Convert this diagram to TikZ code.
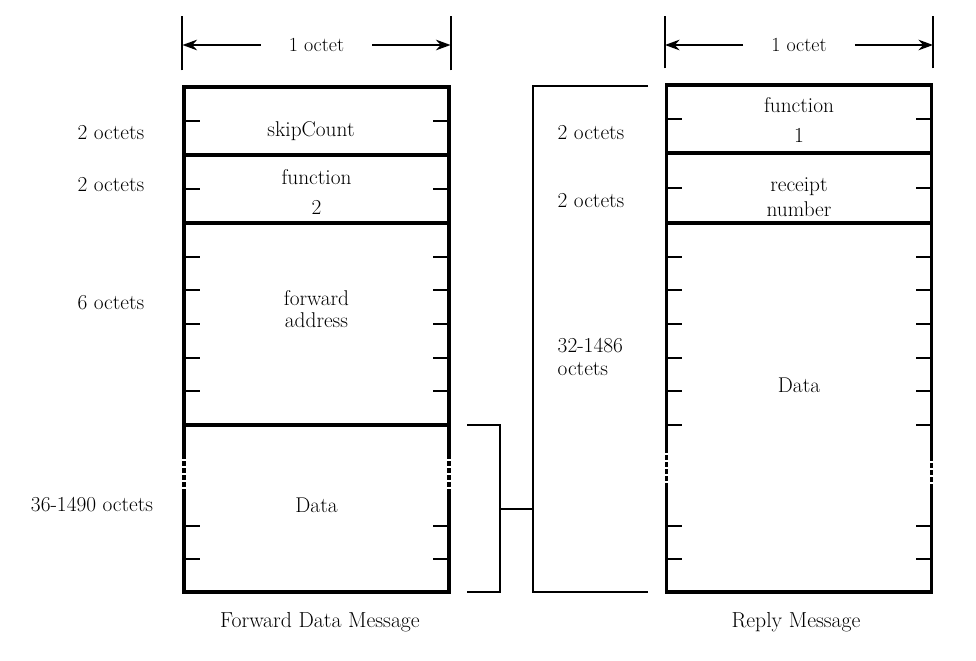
\documentclass[tikz,border=0pt]{standalone}
\usetikzlibrary{arrows.meta}

\begin{document}
\begin{tikzpicture}[x=0.75pt, y=-0.75pt,
    field/.style={draw, line width=2.3pt, minimum width=198.75pt, inner sep=0pt},
    ticmark/.style={line width=1.5pt},
    txt/.style={font=\fontsize{16}{19}\selectfont, align=center},
    capt/.style={font=\fontsize{16.3}{19}\selectfont},
    dimline/.style={line width=1.5pt},
    dimarr/.style={-{Stealth[length=11pt, width=8pt]}, line width=1.1pt},
    brack/.style={line width=1.2pt},
    brk/.style={white, line width=3.5pt, dash pattern=on 1.6pt off 3.6pt}
  ]
  \useasboundingbox (0,0) rectangle (976,661);

  % forward data message
  \node[field, minimum height=51pt]     (fskip) at (316.5,121)   {};
  \node[field, minimum height=51pt]     (ffunc) at (316.5,189)   {};
  \node[field, minimum height=151.5pt]  (faddr) at (316.5,324)   {};
  \node[field, minimum height=125.25pt] (fdata) at (316.5,508.5) {};

  \foreach \y in {121,189,257,290,324,358,391,526,559}{
    \draw[ticmark] (184,\y) -- +(16,0);
    \draw[ticmark] (449,\y) -- +(-16,0);
  }
  \draw[brk] (184,459) -- (184,490);
  \draw[brk] (449,459) -- (449,490);

  \node[txt] (tskip) at (311,131) {skipCount};
  \node[txt] (tfunc) at (316.5,192) {function\\[4pt]2};
  \node[txt] (taddr) at (316.5,309) {forward\\[-2.5pt]address};
  \node[txt] (tfdat) at (316.5,505) {Data};

  \node[txt] (lskip) at (111,133) {2 octets};
  \node[txt] (lfunc) at (111,185) {2 octets};
  \node[txt] (laddr) at (111,303) {6 octets};
  \node[txt] (lfdat) at (92,505)  {36-1490 octets};

  \node[txt, font=\fontsize{15}{18}\selectfont, inner xsep=21pt] (octf) at (316.5,45) {1 octet};
  \draw[dimline] (fskip.north west) ++(0,-15) -- ++(0,-54);
  \draw[dimline] (fskip.north east) ++(0,-15) -- ++(0,-54);
  \draw[dimarr] (octf.west) -- (fskip.north west |- octf.west);
  \draw[dimarr] (octf.east) -- (fskip.north east |- octf.east);

  \node[capt] (capf) at (320,622) {Forward Data Message};

  % reply message
  \node[field, minimum height=51pt]     (rfunc) at (799,119)   {};
  \node[field, minimum height=52.5pt]   (rrcpt) at (799,188)   {};
  \node[field, minimum height=276.75pt] (rdata) at (799,407.5) {};

  \foreach \y in {119,188,257,290,324,358,391,425,526,559}{
    \draw[ticmark] (666,\y) -- +(16,0);
    \draw[ticmark] (932,\y) -- +(-16,0);
  }
  \draw[brk] (666,453) -- (666,484);
  \draw[brk] (932,461) -- (932,484);

  \node[txt] (trfun) at (799,120) {function\\[3pt]1};
  \node[txt] (trcpt) at (799,197) {receipt\\[0pt]number};
  \node[txt] (trdat) at (799,385) {Data};

  \node[txt, font=\fontsize{15}{18}\selectfont, inner xsep=21pt] (octr) at (799,45) {1 octet};
  \draw[dimline] (rfunc.north west) ++(0,-15) -- ++(0,-52);
  \draw[dimline] (rfunc.north east) ++(0,-15) -- ++(0,-52);
  \draw[dimarr] (octr.west) -- (rfunc.north west |- octr.west);
  \draw[dimarr] (octr.east) -- (rfunc.north east |- octr.east);

  \node[capt] (capr) at (796,622) {Reply Message};

  % brackets
  \draw[brack] (467,425) -- (500,425) -- (500,592) -- (467,592);
  \draw[brack] (648,86) -- (533,86) -- (533,592) -- (648,592);
  \coordinate (lbr) at (500,509);
  \coordinate (rbr) at (533,509);
  \draw[brack] (lbr) -- (rbr);

  \node[txt, anchor=west] (lrfun) at (553,133) {2 octets};
  \node[txt, anchor=west] (lrrcp) at (553,201) {2 octets};
  \node[txt, anchor=west, align=left] (lrdat) at (553,357) {32-1486\\[-2pt]octets};
\end{tikzpicture}
\end{document}
